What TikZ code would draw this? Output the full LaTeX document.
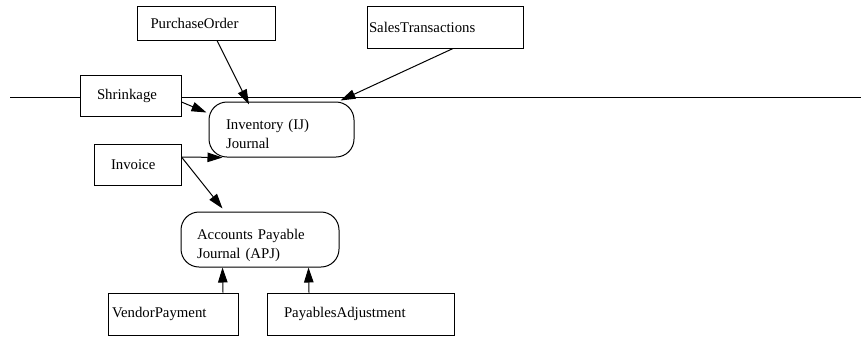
\documentclass[tikz,border=0pt]{standalone}
\usepackage{fontspec}
\setmainfont{Liberation Serif}
\usetikzlibrary{arrows.meta}
\begin{document}
\begin{tikzpicture}[x=1pt,y=-1pt,
  every node/.style={font=\fontsize{14.8}{19}\selectfont},
  box/.style={draw, line width=1pt, fill=white, rectangle, align=left, inner ysep=0pt},
  jbox/.style={box, rounded corners=18pt},
  arr/.style={line width=1pt, -{Triangle[length=15pt,width=9.5pt]}}
]
\useasboundingbox (0,0) rectangle (861,349);
\coordinate (lineL) at (10,97.7);
\coordinate (lineR) at (861,97.7);
\draw[line width=1pt] (lineL) -- (lineR);

\node[box, minimum width=137.5pt, minimum height=34pt, inner xsep=13pt, text width=111.5pt] (po) at (206.25,23) {PurchaseOrder};
\node[box, minimum width=156pt, minimum height=42pt, inner xsep=2pt, text width=152pt] (st) at (445,27) {SalesTransactions};
\node[box, minimum width=101pt, minimum height=41pt, inner xsep=17pt, text width=67pt] (shr) at (130.5,95.5) {Shrinkage};
\node[jbox, minimum width=145pt, minimum height=55pt, inner xsep=17pt, text width=111pt, text height=12pt, text depth=12pt] (inv) at (281.5,129.5) {Inventory (IJ)\\Journal};
\node[box, minimum width=87pt, minimum height=41pt, inner xsep=17pt, text width=53pt] (invo) at (137.5,164.5) {Invoice};
\node[jbox, minimum width=158pt, minimum height=55pt, inner xsep=16pt, text width=126pt, text height=12pt, text depth=12pt] (apj) at (260,239.5) {Accounts Payable\\Journal (APJ)};
\node[box, minimum width=130pt, minimum height=42pt, inner xsep=4pt, text width=122pt] (vp) at (173,314) {VendorPayment};
\node[box, minimum width=187pt, minimum height=42pt, inner xsep=17pt, text width=153pt] (pa) at (360.5,314) {PayablesAdjustment};

\draw[arr] ([xshift=10.75pt]po.south) -- ([xshift=-32.5pt,yshift=-3pt]inv.north);
\draw[arr] ([xshift=8pt]st.south) -- ([xshift=-14pt,yshift=1pt]inv.north east);
\draw[arr] ([yshift=-6.5pt]shr.east) -- ([xshift=-2pt,yshift=-11pt]inv.north west);
\draw[arr] ([yshift=7.5pt]invo.east) -- ([xshift=14pt]inv.south west);
\draw[arr] ([yshift=7.5pt]invo.east) -- ([xshift=42pt,yshift=3pt]apj.north west);
\draw[arr] ([xshift=50pt]vp.north) -- ([xshift=42pt]apj.south west);
\draw[arr] ([xshift=-51.5pt]pa.north) -- ([xshift=128pt]apj.south west);
\end{tikzpicture}
\end{document}
